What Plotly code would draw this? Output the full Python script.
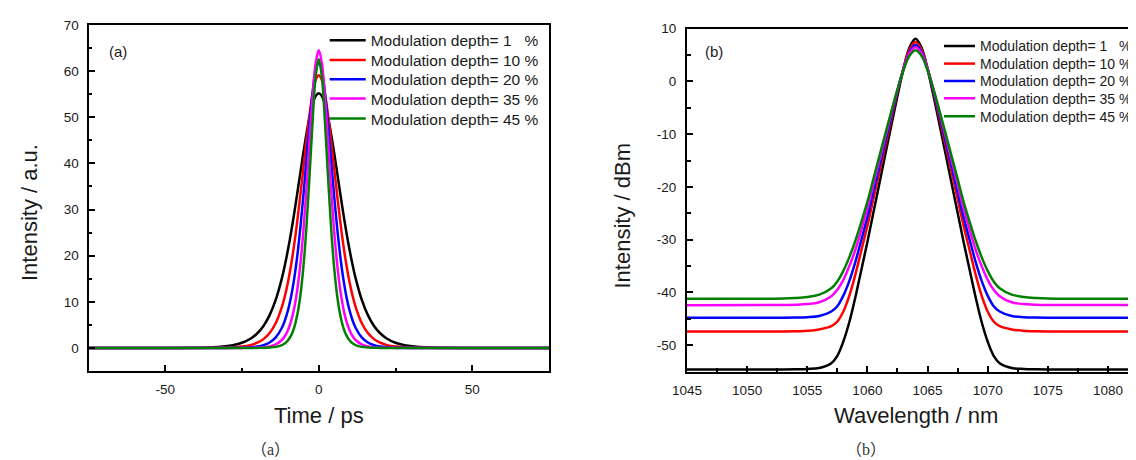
import plotly.graph_objects as go

# ---------------- data ----------------
series_names = [
    "Modulation depth= 1\u00a0\u00a0\u00a0%",
    "Modulation depth= 10 %",
    "Modulation depth= 20 %",
    "Modulation depth= 35 %",
    "Modulation depth= 45 %",
]
series_colors = ["#000000", "#ff0000", "#0000ff", "#ff00ff", "#008000"]

# panel (a): time-domain intensity
time_ps = [-75, -50, -40, -36, -32, -28, -25, -22, -20, -18, -16, -14, -12, -11, -10, -9, -8, -7, -6, -5, -4, -3, -2, -1,
           0, 1, 2, 3, 4, 5, 6, 7, 8, 9, 10, 11, 12, 14, 16, 18, 20, 22, 25, 28, 32, 36, 40, 50, 75]
int_md1 = [0, 0, 0.05, 0.11, 0.26, 0.61, 1.13, 2.11, 3.18, 4.77, 7.11, 10.46, 15.14, 18.05, 21.37, 25.09, 29.15, 33.48,
           37.95, 42.35, 46.46, 50.04, 52.83, 54.59, 55.2, 54.59, 52.83, 50.04, 46.46, 42.35, 37.95, 33.48, 29.15, 25.09,
           21.37, 18.05, 15.14, 10.46, 7.11, 4.77, 3.18, 2.11, 1.13, 0.61, 0.26, 0.11, 0.05, 0, 0]
int_md10 = [0, 0, 0.01, 0.02, 0.05, 0.14, 0.30, 0.67, 1.13, 1.91, 3.22, 5.39, 8.90, 11.34, 14.36, 18.03, 22.38, 27.42,
            33.04, 39.03, 45.03, 50.57, 55.09, 58.06, 59.1, 58.06, 55.09, 50.57, 45.03, 39.03, 33.04, 27.42, 22.38,
            18.03, 14.36, 11.34, 8.90, 5.39, 3.22, 1.91, 1.13, 0.67, 0.30, 0.14, 0.05, 0.02, 0.01, 0, 0]
int_md20 = [0, 0, 0, 0, 0.01, 0.02, 0.06, 0.16, 0.31, 0.61, 1.18, 2.28, 4.37, 6.01, 8.22, 11.17, 15.02, 19.92, 25.95,
            33.03, 40.81, 48.60, 55.41, 60.12, 61.8, 60.12, 55.41, 48.60, 40.81, 33.03, 25.95, 19.92, 15.02, 11.17,
            8.22, 6.01, 4.37, 2.28, 1.18, 0.61, 0.31, 0.16, 0.06, 0.02, 0.01, 0, 0, 0, 0]
int_md35 = [0, 0, 0, 0, 0, 0, 0.01, 0.03, 0.06, 0.14, 0.33, 0.75, 1.72, 2.58, 3.88, 5.79, 8.58, 12.56, 18.09, 25.40,
            34.48, 44.66, 54.48, 61.78, 64.5, 61.78, 54.48, 44.66, 34.48, 25.40, 18.09, 12.56, 8.58, 5.79, 3.88, 2.58,
            1.72, 0.75, 0.33, 0.14, 0.06, 0.03, 0.01, 0, 0, 0, 0, 0, 0]
int_md45 = [0, 0, 0, 0, 0, 0, 0, 0, 0.01, 0.03, 0.08, 0.23, 0.62, 1.02, 1.67, 2.72, 4.42, 7.13, 11.31, 17.55, 26.29,
            37.35, 49.23, 58.85, 62.6, 58.85, 49.23, 37.35, 26.29, 17.55, 11.31, 7.13, 4.42, 2.72, 1.67, 1.02, 0.62,
            0.23, 0.08, 0.03, 0.01, 0, 0, 0, 0, 0, 0, 0, 0]

# panel (b): spectra in dBm
wavelength_nm = [1045, 1053, 1054, 1055, 1056, 1057, 1057.5, 1058, 1058.5, 1059, 1059.5, 1060, 1060.5, 1061, 1061.5,
                 1062, 1062.5, 1063, 1063.5, 1064, 1064.5, 1065, 1065.5, 1066, 1066.5, 1067, 1067.5, 1068, 1068.5,
                 1069, 1069.5, 1070, 1070.5, 1071, 1072, 1073, 1074, 1075, 1083]
spec_md1 = [-54.6, -54.6, -54.57, -54.5, -54.3, -53.4, -52.0, -49.3, -45.6, -40.9, -35.7, -30.42, -24.85, -19.29,
            -13.72, -8.20, -2.77, 2.34, 6.43, 8.1, 6.43, 2.34, -2.77, -8.20, -13.72, -19.29, -24.85, -30.42, -35.7,
            -40.9, -45.6, -49.3, -52.0, -53.4, -54.3, -54.5, -54.57, -54.6, -54.6]
spec_md10 = [-47.4, -47.38, -47.35, -47.25, -47.0, -46.4, -45.5, -43.6, -40.6, -36.6, -32.0, -27.36, -22.25, -17.14,
             -12.05, -7.00, -2.06, 2.52, 6.07, 7.5, 6.07, 2.52, -2.06, -7.00, -12.05, -17.14, -22.25, -27.36, -32.0,
             -36.6, -40.6, -43.6, -45.5, -46.4, -47.0, -47.25, -47.35, -47.38, -47.4]
spec_md20 = [-44.8, -44.79, -44.76, -44.68, -44.45, -43.6, -42.6, -40.6, -37.8, -34.2, -30.0, -25.68, -20.86, -16.03,
             -11.24, -6.48, -1.86, 2.38, 5.62, 6.9, 5.62, 2.38, -1.86, -6.48, -11.24, -16.03, -20.86, -25.68, -30.0,
             -34.2, -37.8, -40.6, -42.6, -43.6, -44.45, -44.68, -44.76, -44.79, -44.8]
spec_md35 = [-42.4, -42.37, -42.32, -42.2, -41.85, -40.7, -39.5, -37.6, -35.0, -31.9, -28.1, -24.05, -19.48, -14.93,
             -10.39, -5.89, -1.56, 2.38, 5.35, 6.5, 5.35, 2.38, -1.56, -5.89, -10.39, -14.93, -19.48, -24.05, -28.1,
             -31.9, -35.0, -37.6, -39.5, -40.7, -41.85, -42.2, -42.32, -42.37, -42.4]
spec_md45 = [-41.2, -41.15, -41.05, -40.85, -40.4, -39.2, -37.9, -35.9, -33.3, -30.2, -26.6, -22.82, -18.48, -14.16,
             -9.85, -5.61, -1.53, 2.13, 4.86, 5.9, 4.86, 2.13, -1.53, -5.61, -9.85, -14.16, -18.48, -22.82, -26.6,
             -30.2, -33.3, -35.9, -37.9, -39.2, -40.4, -40.85, -41.05, -41.15, -41.2]

# tick labels
a_xticks = [-50, 0, 50]
a_xticklabels = ["-50", "0", "50"]
a_yticks = [0, 10, 20, 30, 40, 50, 60, 70]
a_yticklabels = ["0", "10", "20", "30", "40", "50", "60", "70"]
b_xticks = [1045, 1050, 1055, 1060, 1065, 1070, 1075, 1080]
b_xticklabels = ["1045", "1050", "1055", "1060", "1065", "1070", "1075", "1080"]
b_yticks = [-50, -40, -30, -20, -10, 0, 10]
b_yticklabels = ["-50", "-40", "-30", "-20", "-10", "0", "10"]

# ---------------- figure ----------------
W, H = 1136, 460
FONT = "Liberation Sans, Arial, sans-serif"
TXT = "#1a1a1a"


def px_x(p):
    return p / W


def px_y(p):
    return 1 - p / H


fig = go.Figure()

a_series = [int_md1, int_md10, int_md20, int_md35, int_md45]
b_series = [spec_md1, spec_md10, spec_md20, spec_md35, spec_md45]

for i, (ys, name, col) in enumerate(zip(a_series, series_names, series_colors)):
    fig.add_trace(go.Scatter(
        x=time_ps, y=ys, mode="lines", name=name,
        line=dict(color=col, width=2.5, shape="spline"),
        xaxis="x", yaxis="y",
        legend="legend" if i == 0 else f"legend{i + 1}",
        hoverinfo="skip",
    ))

for i, (ys, name, col) in enumerate(zip(b_series, series_names, series_colors)):
    fig.add_trace(go.Scatter(
        x=wavelength_nm, y=ys, mode="lines", name=name,
        line=dict(color=col, width=2.5, shape="spline"),
        xaxis="x2", yaxis="y2",
        legend=f"legend{i + 6}",
        hoverinfo="skip",
    ))

# empty trace so the right-hand tick axis of panel (b) exists
fig.add_trace(go.Scatter(x=[], y=[], xaxis="x2", yaxis="y3", showlegend=False, hoverinfo="skip"))

tickfont = dict(family=FONT, size=13.5, color=TXT)
common = dict(showgrid=False, zeroline=False, showline=True, linecolor="black", linewidth=2,
              ticks="inside", ticklen=6, tickwidth=1.5, tickcolor="black", tickfont=tickfont,
              tickmode="array")
minor_common = dict(ticks="inside", ticklen=3.5, tickwidth=1.5, tickcolor="black")

layout = dict(
    width=W, height=H, autosize=False, showlegend=True,
    margin=dict(l=0, r=0, t=0, b=0, pad=0, autoexpand=False),
    paper_bgcolor="white", plot_bgcolor="white",
    xaxis=dict(domain=[px_x(80.5), px_x(541)], range=[-75, 75], anchor="y", mirror=True,
               tickvals=a_xticks, ticktext=a_xticklabels, ticklabelstandoff=5,
               minor=dict(dtick=25, tick0=0, **minor_common), **common),
    yaxis=dict(domain=[px_y(363), px_y(17)], range=[-5, 70], anchor="x", mirror=True,
               tickvals=a_yticks, ticktext=a_yticklabels, ticklabelstandoff=5,
               minor=dict(dtick=5, tick0=0, **minor_common), **common),
    xaxis2=dict(domain=[px_x(679), 1.0], range=[1045, 1083], anchor="y2", mirror=True,
                tickvals=b_xticks, ticktext=b_xticklabels, ticklabelstandoff=5,
                minor=dict(dtick=2.5, tick0=1045, **minor_common), **common),
    yaxis2=dict(domain=[px_y(363.6), px_y(20.7)], range=[-55, 10], anchor="x2", mirror=False,
                tickvals=b_yticks, ticktext=b_yticklabels, ticklabelstandoff=6,
                minor=dict(dtick=5, tick0=0, **minor_common), **common),
    yaxis3=dict(overlaying="y2", side="right", anchor="x2", range=[-55, 10], showline=False,
                showgrid=False, zeroline=False, ticks="inside", ticklen=6, tickwidth=1.5, tickcolor="black",
                tickmode="array", tickvals=b_yticks, showticklabels=False,
                minor=dict(dtick=5, tick0=0, **minor_common)),
)

a_rows = [32.7, 52.3, 71.7, 91.0, 111.0]
b_rows = [38.3, 56.0, 73.3, 90.7, 108.7]
for i, r in enumerate(a_rows):
    key = "legend" if i == 0 else f"legend{i + 1}"
    layout[key] = dict(x=px_x(316.7), xanchor="left", y=px_y(r), yanchor="middle",
                       font=dict(family=FONT, size=15.5, color=TXT), itemwidth=36, visible=True,
                       bgcolor="rgba(0,0,0,0)", borderwidth=0, tracegroupgap=0)
for i, r in enumerate(b_rows):
    key = f"legend{i + 6}"
    layout[key] = dict(x=px_x(931), xanchor="left", y=px_y(r), yanchor="middle",
                       font=dict(family=FONT, size=14, color=TXT), itemwidth=31, visible=True,
                       bgcolor="rgba(0,0,0,0)", borderwidth=0, tracegroupgap=0)

title_font = dict(family=FONT, size=22, color=TXT)
cap_font = dict(family="Liberation Serif, Noto Sans CJK SC, serif", size=16, color="#333333")
annotations = [
    dict(text="Intensity / a.u.", x=px_x(21), y=px_y(205), textangle=-90, font=title_font),
    dict(text="Time / ps", x=px_x(310.7), y=px_y(407), font=title_font),
    dict(text="Intensity / dBm", x=px_x(614), y=px_y(207.5), textangle=-90, font=title_font),
    dict(text="Wavelength / nm", x=px_x(907.5), y=px_y(407), font=title_font),
    dict(text="(a)", x=px_x(110), y=px_y(43), font=dict(family=FONT, size=15, color=TXT)),
    dict(text="(b)", x=px_x(706), y=px_y(43), font=dict(family=FONT, size=15, color=TXT)),
    dict(text="（a）", x=px_x(262), y=px_y(441), font=cap_font),
    dict(text="（b）", x=px_x(858), y=px_y(441), font=cap_font),
]
for a in annotations:
    a.update(xref="paper", yref="paper", showarrow=False, xanchor="center", yanchor="middle")
layout["annotations"] = annotations

fig.update_layout(**layout)
fig.write_html("out.html")
